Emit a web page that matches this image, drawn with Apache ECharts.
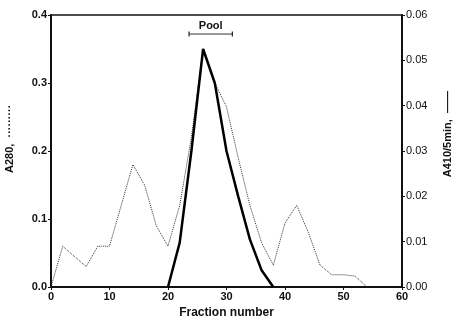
<!DOCTYPE html>
<html>
<head>
<meta charset="utf-8">
<script src="https://cdn.jsdelivr.net/npm/echarts@6/dist/echarts.min.js"></script>
<style>
  html, body { margin: 0; padding: 0; background: #fff; }
  #container { width: 454px; height: 320px; }
</style>
</head>
<body>
<div id="container"></div>
<script>
// A280 (dotted, left axis)
const fractions = [0, 2, 4, 6, 8, 10, 12, 14, 16, 18, 20, 22, 24, 26, 28, 30, 32, 34, 36, 38, 40, 42, 44, 46, 48, 50, 52, 54]
const a280 = [0, 0.06, 0.045, 0.03, 0.06, 0.06, 0.12, 0.18, 0.15, 0.09, 0.06, 0.12, 0.22, 0.35, 0.30, 0.265, 0.19, 0.12, 0.065, 0.032, 0.094, 0.12, 0.08, 0.032, 0.018, 0.018, 0.016, 0]

// A410/5min (solid, right axis)
const activityFractions = [20, 22, 24, 26, 28, 30, 32, 34, 36, 38]
const a410 = [0, 0.0098, 0.030, 0.0525, 0.045, 0.030, 0.020, 0.0105, 0.0037, 0]

// pooled fractions bracket
const poolRange = [23.6, 31]
const poolLevel = 0.372

const font = 'Liberation Sans, Arial, sans-serif'

const myChart = echarts.init(document.getElementById('container'))

const option = {
    backgroundColor: '#fff',
    animation: false,
    grid: {
        left: 51,
        right: 52,
        top: 15,
        bottom: 33,
        outerBoundsMode: 'none',
        containLabel: false,
        show: true,
        borderColor: '#111',
        borderWidth: 1.5
    },
    xAxis: {
        type: 'value',
        min: 0,
        max: 60,
        interval: 10,
        name: 'Fraction number',
        nameLocation: 'middle',
        nameGap: 19,
        nameTextStyle: { fontFamily: font, fontWeight: 'bold', fontSize: 12, color: '#111' },
        axisLine: { show: true, lineStyle: { color: '#111', width: 2 } },
        axisTick: { show: true, length: 3, lineStyle: { color: '#111' } },
        axisLabel: { fontFamily: font, fontWeight: 'bold', fontSize: 11, color: '#111', margin: 4 },
        splitLine: { show: false }
    },
    yAxis: [
        {
            type: 'value',
            min: 0,
            max: 0.4,
            interval: 0.1,
            name: '        A280,  ·········',
            nameLocation: 'middle',
            nameGap: 36,
            nameTextStyle: { fontFamily: font, fontWeight: 'bold', fontSize: 11, color: '#111' },
            axisLine: { show: true, lineStyle: { color: '#111', width: 2 } },
            axisTick: { show: true, length: 3, lineStyle: { color: '#111' } },
            axisLabel: {
                fontFamily: font, fontWeight: 'bold', fontSize: 11, color: '#111', margin: 4,
                formatter: v => v.toFixed(1)
            },
            splitLine: { show: false }
        },
        {
            type: 'value',
            min: 0,
            max: 0.06,
            interval: 0.01,
            position: 'right',
            name: '           A410/5min,  ——',
            nameLocation: 'middle',
            nameGap: 40,
            nameRotate: 90,
            nameTextStyle: { fontFamily: font, fontWeight: 'bold', fontSize: 11, color: '#111' },
            axisLine: { show: true, lineStyle: { color: '#111', width: 2 } },
            axisTick: { show: true, length: 3, lineStyle: { color: '#111' } },
            axisLabel: {
                fontFamily: font, fontSize: 11, color: '#111', margin: 4,
                formatter: v => v.toFixed(2)
            },
            splitLine: { show: false }
        }
    ],
    series: [
        {
            name: 'A280',
            type: 'line',
            yAxisIndex: 0,
            symbol: 'none',
            lineStyle: { color: '#333', width: 1, type: 'dotted' },
            data: fractions.map((f, i) => [f, a280[i]])
        },
        {
            name: 'A410/5min',
            type: 'line',
            yAxisIndex: 1,
            symbol: 'none',
            lineStyle: { color: '#000', width: 2.5 },
            data: activityFractions.map((f, i) => [f, a410[i]])
        },
        {
            name: 'Pool',
            type: 'line',
            yAxisIndex: 0,
            symbol: 'rect',
            symbolSize: [1.2, 5],
            itemStyle: { color: '#222' },
            lineStyle: { color: '#333', width: 1 },
            data: poolRange.map(f => [f, poolLevel]),
            markLine: {
                silent: true,
                symbol: 'none',
                lineStyle: { color: 'rgba(0,0,0,0)', width: 1, type: 'solid' },
                label: {
                    show: true,
                    position: 'middle',
                    formatter: 'Pool',
                    fontFamily: font,
                    fontWeight: 'bold',
                    fontSize: 11,
                    color: '#111',
                    distance: 3
                },
                data: [[{ coord: [poolRange[0], poolLevel] }, { coord: [poolRange[1], poolLevel] }]]
            }
        }
    ]
}

myChart.setOption(option)
</script>
</body>
</html>
